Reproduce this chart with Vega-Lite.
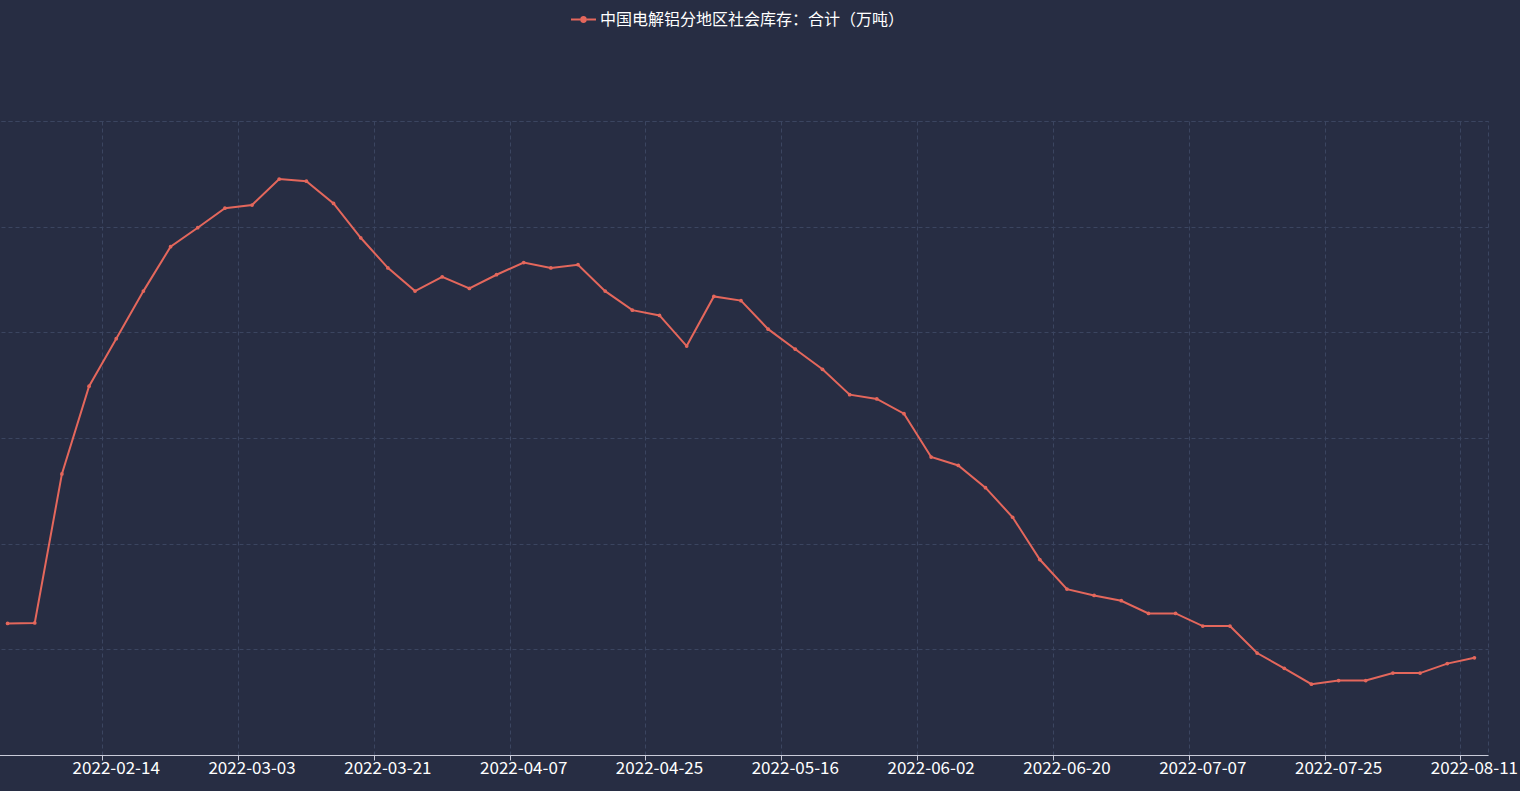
{
  "$schema": "https://vega.github.io/schema/vega-lite/v6.json",
  "width": 1494,
  "height": 634,
  "autosize": {"type": "none"},
  "padding": {"left": -6, "top": 121, "right": 32, "bottom": 36},
  "background": "#272d43",
  "config": {
    "view": {"stroke": "#3b4560", "strokeDash": [4, 3], "strokeWidth": 1},
    "font": "Noto Sans CJK SC"
  },
  "data": {
    "values": [
      {"date": "2022-01-24", "value": 72.45},
      {"date": "2022-01-27", "value": 72.5},
      {"date": "2022-02-07", "value": 86.6},
      {"date": "2022-02-10", "value": 94.9},
      {"date": "2022-02-14", "value": 99.4},
      {"date": "2022-02-17", "value": 103.9},
      {"date": "2022-02-21", "value": 108.1},
      {"date": "2022-02-24", "value": 109.9},
      {"date": "2022-02-28", "value": 111.75},
      {"date": "2022-03-03", "value": 112.05},
      {"date": "2022-03-07", "value": 114.5},
      {"date": "2022-03-10", "value": 114.3},
      {"date": "2022-03-14", "value": 112.2},
      {"date": "2022-03-17", "value": 108.95},
      {"date": "2022-03-21", "value": 106.1},
      {"date": "2022-03-24", "value": 103.9},
      {"date": "2022-03-28", "value": 105.25},
      {"date": "2022-03-31", "value": 104.15},
      {"date": "2022-04-04", "value": 105.45},
      {"date": "2022-04-07", "value": 106.6},
      {"date": "2022-04-11", "value": 106.1},
      {"date": "2022-04-14", "value": 106.4},
      {"date": "2022-04-18", "value": 103.9},
      {"date": "2022-04-21", "value": 102.1},
      {"date": "2022-04-25", "value": 101.6},
      {"date": "2022-04-28", "value": 98.7},
      {"date": "2022-05-05", "value": 103.4},
      {"date": "2022-05-09", "value": 103.0},
      {"date": "2022-05-12", "value": 100.3},
      {"date": "2022-05-16", "value": 98.4},
      {"date": "2022-05-19", "value": 96.5},
      {"date": "2022-05-23", "value": 94.1},
      {"date": "2022-05-26", "value": 93.7},
      {"date": "2022-05-30", "value": 92.3},
      {"date": "2022-06-02", "value": 88.2},
      {"date": "2022-06-06", "value": 87.4},
      {"date": "2022-06-09", "value": 85.3},
      {"date": "2022-06-13", "value": 82.5},
      {"date": "2022-06-16", "value": 78.5},
      {"date": "2022-06-20", "value": 75.7},
      {"date": "2022-06-23", "value": 75.1},
      {"date": "2022-06-27", "value": 74.6},
      {"date": "2022-06-30", "value": 73.4},
      {"date": "2022-07-04", "value": 73.4},
      {"date": "2022-07-07", "value": 72.2},
      {"date": "2022-07-11", "value": 72.2},
      {"date": "2022-07-14", "value": 69.65},
      {"date": "2022-07-18", "value": 68.2},
      {"date": "2022-07-21", "value": 66.7},
      {"date": "2022-07-25", "value": 67.05},
      {"date": "2022-07-28", "value": 67.05},
      {"date": "2022-08-01", "value": 67.75},
      {"date": "2022-08-04", "value": 67.75},
      {"date": "2022-08-08", "value": 68.65},
      {"date": "2022-08-11", "value": 69.2}
    ]
  },
  "mark": {"type": "line", "strokeWidth": 2, "point": {"filled": true, "size": 14}},
  "encoding": {
    "x": {
      "field": "date",
      "type": "ordinal",
      "sort": null,
      "scale": {"type": "band", "paddingInner": 0, "paddingOuter": 0},
      "axis": {
        "values": ["2022-02-14", "2022-03-03", "2022-03-21", "2022-04-07", "2022-04-25", "2022-05-16", "2022-06-02", "2022-06-20", "2022-07-07", "2022-07-25", "2022-08-11"],
        "bandPosition": 0,
        "labelAngle": 0,
        "title": null,
        "grid": true,
        "gridColor": "#3b4560",
        "gridDash": [4, 3],
        "domainColor": "#c9cbd9",
        "tickColor": "#c9cbd9",
        "tickSize": 5,
        "labelColor": "#ffffff",
        "labelFontSize": 17,
        "labelPadding": 0,
        "labelFont": "Noto Sans CJK SC"
      }
    },
    "y": {
      "field": "value",
      "type": "quantitative",
      "scale": {"domain": [60, 120], "nice": false, "zero": false},
      "axis": {
        "values": [60, 70, 80, 90, 100, 110, 120],
        "labels": false,
        "ticks": false,
        "domain": false,
        "title": null,
        "grid": true,
        "gridColor": "#3b4560",
        "gridDash": [4, 3]
      }
    },
    "color": {
      "datum": "中国电解铝分地区社会库存：合计（万吨）",
      "scale": {"range": ["#e4675c"]},
      "legend": {
        "orient": "none",
        "legendX": 577,
        "legendY": -114,
        "title": null,
        "padding": 0,
        "symbolType": "M-1,-0.08L-0.28,-0.08L-0.28,0.08L-1,0.08Z M0.28,-0.08L1,-0.08L1,0.08L0.28,0.08Z M0.28,0A0.28,0.28 0 1,1 -0.28,0A0.28,0.28 0 1,1 0.28,0Z",
        "symbolSize": 625,
        "symbolStrokeWidth": 0,
        "labelColor": "#ffffff",
        "labelFontSize": 16,
        "labelFont": "Noto Sans CJK SC",
        "labelOffset": 4,
        "labelLimit": 0,
        "encode": {
          "symbols": {"update": {"fill": {"value": "#e4675c"}, "stroke": {"value": "transparent"}, "strokeWidth": {"value": 0}}}
        }
      }
    }
  }
}
